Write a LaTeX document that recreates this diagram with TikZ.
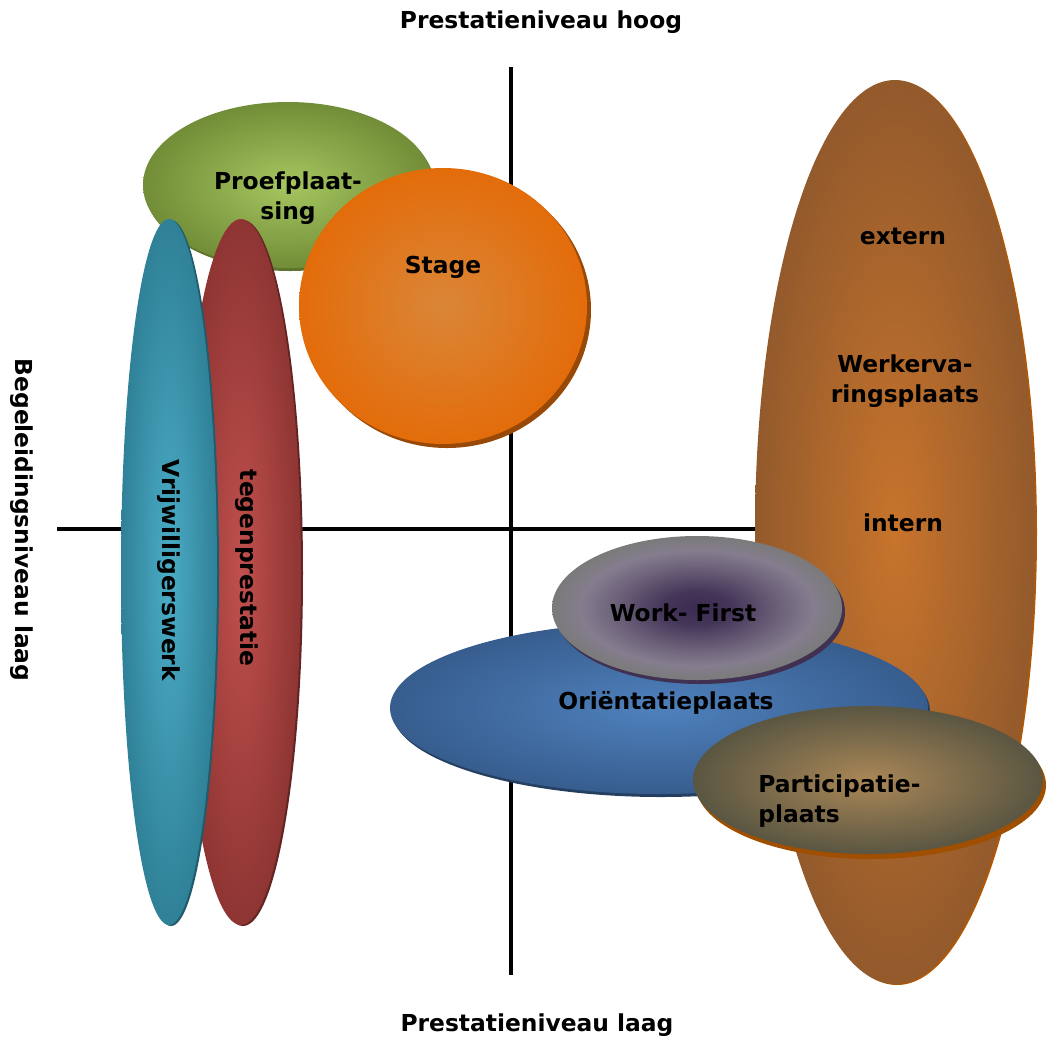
\documentclass[tikz,border=0pt]{standalone}
\usepackage{fontspec}
\setmainfont{DejaVu Sans}
\usetikzlibrary{positioning}

\definecolor{proefin}{HTML}{A6C660}
\definecolor{proefout}{HTML}{718D37}
\definecolor{proefsh}{HTML}{5E7530}
\definecolor{stagein}{HTML}{DA8638}
\definecolor{stageout}{HTML}{E36C0A}
\definecolor{stagesh}{HTML}{984807}
\definecolor{vrijin}{HTML}{4BACC6}
\definecolor{vrijout}{HTML}{2F8197}
\definecolor{vrijsh}{HTML}{215A6A}
\definecolor{tegenin}{HTML}{C0504D}
\definecolor{tegenout}{HTML}{8E3533}
\definecolor{tegensh}{HTML}{632523}
\definecolor{werkin}{HTML}{C8742C}
\definecolor{werkout}{HTML}{935A2C}
\definecolor{werksh}{HTML}{B0580A}
\definecolor{orientin}{HTML}{4F81BD}
\definecolor{orientout}{HTML}{375D8E}
\definecolor{orientsh}{HTML}{243F60}
\definecolor{wfin}{HTML}{3A2A50}
\definecolor{wfmid}{HTML}{857D8E}
\definecolor{wfout}{HTML}{7A7A7A}
\definecolor{wfsh}{HTML}{403152}
\definecolor{partin}{HTML}{AA8757}
\definecolor{partout}{HTML}{5A5642}
\definecolor{partsh}{HTML}{A04F00}

\pgfdeclareradialshading{wfshade}{\pgfpoint{0bp}{0bp}}{color(0bp)=(wfin); color(6bp)=(wfin!85!wfmid); color(14bp)=(wfin!35!wfmid); color(20bp)=(wfmid); color(25bp)=(wfout); color(50bp)=(wfout)}

\begin{document}
\begin{tikzpicture}[x=0.02cm,y=-0.02cm,
    lbl/.style={font=\fontsize{13.3}{17}\selectfont\bfseries, align=center, inner sep=0pt},
    axis/.style={line width=2.8pt}]
  \useasboundingbox (0,0) rectangle (1049,1039);

  % Assen
  \coordinate (ytop) at (511,67);
  \coordinate (ybot) at (511,975);
  \coordinate (xleft) at (57,529);
  \coordinate (xright) at (780,529);
  \draw[axis] (ytop) -- (ybot);
  \draw[axis] (xleft) -- (xright);

  \node[lbl] (hoog) at (541,22) {Prestatieniveau hoog};
  \node[lbl] (laag) at (537,1025) {Prestatieniveau laag};
  \node[lbl, rotate=-90] (begeleiding) at (22,520) {Begeleidingsniveau laag};

  % Proefplaatsing
  \fill[proefsh] (290,188) ellipse [x radius=145, y radius=83];
  \shade[inner color=proefin, outer color=proefout] (288,185) ellipse [x radius=145, y radius=83];

  % Tegenprestatie en vrijwilligerswerk
  \fill[tegensh] (243,573) ellipse [x radius=60, y radius=353];
  \shade[inner color=tegenin, outer color=tegenout] (241,572) ellipse [x radius=60, y radius=353];
  \fill[vrijsh] (171,573) ellipse [x radius=48, y radius=353];
  \shade[inner color=vrijin, outer color=vrijout] (169,572) ellipse [x radius=48, y radius=353];

  % Stage
  \fill[stagesh] (447,310) ellipse [x radius=144, y radius=138];
  \shade[inner color=stagein, outer color=stageout] (443,306) ellipse [x radius=144, y radius=138];

  % Werkervaringsplaats
  \fill[werksh] (897,533) ellipse [x radius=140, y radius=452];
  \shade[inner color=werkin, outer color=werkout] (895,532) ellipse [x radius=140, y radius=452];

  % Orientatieplaats
  \fill[orientsh] (661,711) ellipse [x radius=269, y radius=86];
  \shade[inner color=orientin, outer color=orientout] (659,708) ellipse [x radius=269, y radius=86];

  % Work-First
  \fill[wfsh] (700,612) ellipse [x radius=145, y radius=72];
  \shade[shading=wfshade] (697,608) ellipse [x radius=145, y radius=72];

  % Participatieplaats
  \fill[partsh] (871,785) ellipse [x radius=175, y radius=74];
  \shade[inner color=partin, outer color=partout] (868,780) ellipse [x radius=175, y radius=74];

  % Teksten
  \node[lbl] (proef) at (288,198) {Proefplaat-\\sing};
  \node[lbl] (stage) at (443,267) {Stage};
  \node[lbl, rotate=-90] (vrij) at (169,570) {Vrijwilligerswerk};
  \node[lbl, rotate=-90] (tegen) at (247,568) {tegenprestatie};
  \node[lbl] (extern) at (903,236) {extern};
  \node[lbl] (werkerv) at (905,381) {Werkerva-\\ringsplaats};
  \node[lbl] (intern) at (903,523) {intern};
  \node[lbl] (wf) at (683,613) {Work- First};
  \node[lbl] (orient) at (666,703) {Oriëntatieplaats};
  \node[lbl, align=left, anchor=west] (part) at (758,801) {Participatie-\\plaats};
\end{tikzpicture}
\end{document}
